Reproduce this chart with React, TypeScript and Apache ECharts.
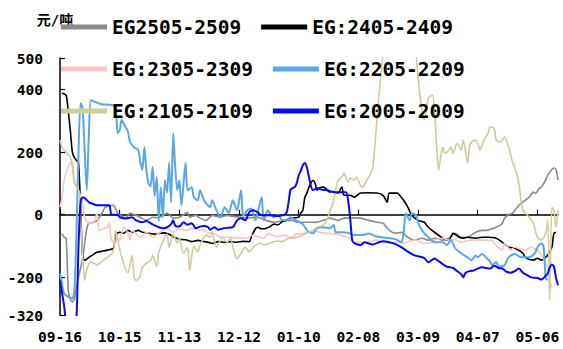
import React, { useEffect, useRef } from "react";
import * as echarts from "echarts";

// daily categories 09-16 .. 05-16
const startDate = Date.UTC(2024, 8, 16);
const dayCount = 243;
const categories: string[] = Array.from({ length: dayCount }, (_, i) => {
  const d = new Date(startDate + i * 86400000);
  const mm = String(d.getUTCMonth() + 1).padStart(2, "0");
  const dd = String(d.getUTCDate()).padStart(2, "0");
  return `${mm}-${dd}`;
});

const seriesNames = [
  "EG2505-2509",
  "EG:2405-2409",
  "EG:2305-2309",
  "EG:2205-2209",
  "EG:2105-2109",
  "EG:2005-2009",
];

// [day offset, spread value 元/吨]
const eg2505: [number, number][] = [[1,-60],[2,-72],[3,-75],[4,-240],[5,-270],[6,-278],[7,-270],[8,-230],[10,-170],[11,-140],[12,-90],[13,-45],[14,-27],[16,-25],[18,-18],[20,0],[22,24],[24,28],[26,30],[28,5],[30,-5],[32,-10],[34,5],[36,0],[39,-8],[42,-18],[45,-8],[48,-10],[50,-2],[52,5],[55,-11],[58,-8],[60,0],[62,8],[63,-8],[66,-2],[68,-11],[71,-18],[74,-2],[78,-8],[81,-2],[85,-6],[88,-8],[91,-11],[96,-8],[100,-18],[104,-24],[108,-20],[113,-18],[115,-24],[119,-24],[124,-24],[128,-18],[131,-11],[135,-18],[138,-11],[142,-10],[146,-11],[150,-18],[154,-24],[157,-27],[160,-50],[163,-59],[166,-56],[169,-72],[172,-81],[176,-75],[179,-81],[182,-75],[186,-81],[189,-75],[192,-59],[195,-72],[198,-72],[202,-56],[205,-50],[207,-50],[210,-45],[212,-40],[214,-33],[215,-27],[216,-11],[218,0],[220,5],[223,30],[226,46],[228,56],[230,72],[231,68],[233,85],[234,88],[236,110],[237,126],[240,149],[241,144],[242,110]];

const eg2405: [number, number][] = [[1,388],[3,380],[4,330],[5,270],[6,200],[7,182],[8,174],[9,165],[10,20],[11,-130],[12,-146],[14,-136],[16,-128],[18,-120],[21,-116],[23,-113],[26,-107],[27,-65],[29,-56],[31,-59],[33,-50],[35,-56],[38,-50],[40,-56],[43,-59],[46,-62],[50,-58],[53,-62],[55,-70],[58,-78],[61,-80],[64,-86],[67,-82],[70,-86],[72,-88],[74,-92],[77,-86],[80,-88],[83,-86],[86,-88],[89,-85],[92,-86],[93,-70],[95,-45],[96,-40],[98,-45],[100,-44],[102,-38],[104,-30],[106,-32],[108,-22],[110,-18],[112,-10],[114,-10],[116,-8],[117,5],[118,14],[119,56],[120,69],[121,88],[123,110],[124,100],[125,78],[126,85],[128,88],[130,78],[131,72],[133,74],[135,69],[137,88],[138,62],[141,62],[143,56],[146,69],[150,70],[154,69],[157,62],[159,40],[160,69],[164,69],[165,62],[167,46],[169,24],[171,-2],[174,-18],[177,-24],[179,-40],[182,-56],[186,-75],[189,-81],[191,-59],[194,-72],[196,-75],[198,-72],[202,-75],[205,-72],[208,-72],[212,-75],[215,-88],[218,-104],[221,-107],[225,-123],[226,-136],[230,-145],[232,-139],[234,-145],[236,-136],[237,-129],[239,-104],[240,-59],[241,-56]];

const eg2305: [number, number][] = [[0,24],[1,56],[2,110],[4,152],[5,165],[6,168],[7,110],[9,78],[11,37],[12,-8],[14,-27],[16,-27],[18,5],[19,-50],[21,-45],[23,-40],[24,-27],[25,-81],[27,-91],[28,-72],[29,-81],[31,-40],[33,-59],[34,-81],[35,-50],[37,-60],[39,-72],[42,-56],[45,-72],[48,-59],[52,-45],[55,-56],[58,-45],[61,-50],[64,-43],[67,-48],[70,-50],[72,-58],[75,-60],[78,-72],[82,-72],[86,-74],[90,-75],[94,-65],[96,-70],[99,-75],[101,-60],[103,-65],[106,-70],[109,-65],[112,-72],[115,-62],[118,-60],[121,-55],[124,-52],[127,-58],[131,-60],[135,-62],[138,-68],[141,-75],[143,-88],[147,-88],[150,-86],[154,-81],[158,-91],[162,-88],[164,-88],[167,-91],[170,-84],[173,-81],[176,-90],[179,-91],[182,-81],[186,-75],[189,-81],[192,-80],[195,-88],[198,-83],[200,-81],[205,-81],[210,-82],[211,-91],[213,-104],[215,-113],[216,-91],[219,-113],[221,-104],[224,-110],[226,-113],[229,-104],[231,-110],[232,-113],[233,-123],[234,-129],[236,-155],[237,-168],[238,-210],[239,-232]];

const eg2205: [number, number][] = [[0,-187],[1,-220],[2,-251],[4,-262],[6,-267],[7,-240],[8,-60],[9,200],[10,356],[11,340],[12,200],[13,78],[14,250],[15,366],[17,360],[19,355],[21,352],[23,352],[25,350],[27,345],[28,260],[29,270],[30,302],[31,290],[33,265],[34,232],[36,215],[38,206],[39,170],[40,142],[41,216],[42,140],[43,100],[44,90],[45,152],[46,60],[47,120],[48,-20],[49,88],[50,-8],[51,110],[52,70],[53,165],[54,40],[55,260],[56,150],[57,78],[58,110],[59,30],[61,165],[62,78],[64,88],[65,56],[67,46],[68,78],[70,46],[71,37],[73,24],[74,46],[76,14],[78,-8],[80,24],[82,5],[84,46],[86,14],[88,78],[89,-5],[91,14],[93,20],[95,-18],[96,5],[98,56],[99,-18],[101,14],[102,5],[104,-8],[106,0],[108,-18],[110,-18],[112,-8],[114,-15],[116,-22],[118,-30],[119,-40],[121,-56],[123,-59],[125,-43],[128,-40],[131,-43],[133,-34],[134,-56],[137,-56],[140,-58],[143,-65],[147,-65],[150,-60],[153,-68],[156,-72],[160,-75],[163,-78],[165,-85],[166,-88],[167,-59],[168,5],[170,-18],[171,5],[173,-2],[174,-24],[175,-40],[177,-59],[179,-72],[182,-88],[186,-88],[188,-97],[190,-81],[192,-107],[195,-123],[198,-136],[200,-145],[202,-130],[203,-136],[205,-125],[207,-136],[209,-150],[210,-161],[212,-150],[213,-165],[216,-161],[218,-136],[221,-125],[224,-136],[228,-136],[231,-120],[232,-104],[234,-91],[235,-100],[236,-200],[237,-209]];

const eg2105: [number, number][] = [[0,238],[1,215],[2,206],[3,200],[5,184],[6,152],[7,100],[9,78],[10,-8],[11,-130],[12,-209],[13,-175],[15,-150],[18,-160],[21,-145],[24,-132],[26,-115],[27,-50],[28,-76],[30,-136],[33,-185],[35,-130],[36,-200],[37,-210],[38,-205],[39,-195],[40,-168],[42,-155],[44,-145],[45,-130],[47,-165],[48,-120],[50,-85],[52,-62],[53,-104],[55,-62],[57,-91],[58,-75],[60,-123],[62,-104],[63,-178],[65,-100],[67,-118],[68,-98],[71,-65],[73,-72],[74,-55],[76,-104],[78,-81],[79,-72],[81,-88],[83,-75],[84,-104],[86,-140],[88,-123],[90,-104],[92,-118],[94,-104],[97,-91],[100,-96],[103,-88],[106,-84],[108,-86],[111,-75],[114,-74],[117,-68],[120,-58],[123,-50],[125,-40],[128,-34],[130,-10],[132,25],[133,46],[135,108],[137,120],[138,133],[140,104],[141,117],[143,110],[144,120],[146,94],[147,88],[149,110],[151,133],[152,149],[153,222],[155,382],[156,452],[157,510],[160,620],[164,700],[168,650],[172,580],[174,436],[176,327],[177,302],[179,372],[181,382],[182,327],[183,222],[184,142],[185,184],[186,216],[187,196],[189,206],[190,216],[191,196],[193,228],[195,206],[196,238],[198,165],[199,216],[200,232],[202,238],[203,228],[204,206],[206,238],[208,260],[209,280],[211,276],[212,238],[214,232],[216,248],[218,216],[220,165],[221,152],[223,100],[224,46],[225,14],[228,-8],[230,-27],[231,-50],[232,-72],[234,-81],[236,-59],[237,-18],[238,-273],[239,24],[240,14],[241,-40],[242,14]];

const eg2005: [number, number][] = [[0,-210],[1,-250],[2,-290],[3,-340],[5,-350],[7,-350],[8,-330],[9,-100],[10,40],[11,56],[12,53],[14,40],[15,37],[18,30],[21,30],[24,30],[25,0],[28,0],[29,-8],[31,-12],[33,-11],[35,-8],[37,-18],[40,-24],[42,-20],[44,-27],[46,-34],[48,-40],[50,-43],[52,-40],[54,-30],[55,-18],[56,-35],[58,-38],[60,-24],[62,-32],[64,-27],[66,-43],[68,-38],[70,-36],[72,-40],[73,-48],[75,-40],[77,-48],[79,-44],[81,-42],[84,-40],[86,-18],[88,-11],[90,-18],[92,8],[94,14],[96,8],[98,-2],[102,-2],[106,-4],[108,-2],[110,5],[111,37],[112,80],[113,85],[114,88],[115,100],[116,126],[117,140],[118,158],[119,165],[120,150],[121,120],[122,90],[123,78],[125,85],[127,80],[130,78],[133,72],[136,72],[139,72],[140,46],[141,-10],[142,-81],[143,-91],[146,-97],[148,-88],[150,-92],[152,-95],[155,-88],[157,-85],[160,-88],[163,-94],[166,-104],[169,-118],[172,-129],[175,-134],[177,-138],[179,-152],[182,-140],[184,-148],[186,-158],[188,-166],[191,-170],[193,-180],[195,-190],[196,-200],[197,-186],[199,-180],[201,-178],[203,-172],[205,-168],[207,-170],[209,-172],[211,-163],[213,-170],[215,-172],[217,-182],[219,-185],[221,-180],[223,-172],[225,-185],[227,-193],[229,-200],[232,-202],[234,-207],[236,-195],[237,-188],[238,-168],[239,-160],[240,-165],[241,-200],[242,-225]];

const seriesData = [eg2505, eg2405, eg2305, eg2205, eg2105, eg2005];
const seriesColors = ["#8a8a8a", "#000000", "#f5c6c6", "#5aa6e6", "#d0cb9e", "#0a0af0"];
const seriesWidths = [1.6, 1.6, 1.6, 2, 1.6, 2];

const monoFont = "'DejaVu Sans Mono', 'Noto Sans CJK SC', monospace";

export default function App() {
  const ref = useRef<HTMLDivElement>(null);
  useEffect(() => {
    document.body.style.margin = "0";
    if (!ref.current) return;
    const chart = echarts.init(ref.current, undefined, { renderer: "svg" });
    chart.setOption({
      animation: false,
      backgroundColor: "#ffffff",
      textStyle: { fontFamily: monoFont },
      legend: {
        left: 56,
        top: 11,
        width: 440,
        icon: "rect",
        itemWidth: 46,
        itemHeight: 5,
        itemGap: 20,
        data: seriesNames,
        textStyle: { fontSize: 19.5, fontWeight: "bold", color: "#000", lineHeight: 22, fontFamily: monoFont },
      },
      grid: { left: 60, right: 5, top: 58, bottom: 34, containLabel: false },
      xAxis: [
        {
          type: "category",
          data: categories,
          boundaryGap: false,
          position: "bottom",
          axisLine: { show: true, onZero: true, lineStyle: { color: "#000", width: 1.5 } },
          axisTick: { show: true, inside: true, length: 5, interval: 28, lineStyle: { color: "#000", width: 1.2 } },
          axisLabel: { show: false },
          splitLine: { show: false },
        },
        {
          type: "category",
          data: categories,
          boundaryGap: false,
          position: "bottom",
          axisLine: { show: false, onZero: false },
          axisTick: { show: false },
          axisLabel: { show: true, interval: 28, margin: 14, fontSize: 14.6, fontWeight: "bold", color: "#000", fontFamily: monoFont },
          splitLine: { show: false },
        },
      ],
      yAxis: {
        type: "value",
        min: -320,
        max: 500,
        name: "元/吨",
        nameLocation: "end",
        nameGap: 31,
        nameTextStyle: { fontSize: 14, fontWeight: "bold", color: "#000", align: "center", padding: [0, 10, 0, 0], fontFamily: monoFont },
        axisLine: { show: true, lineStyle: { color: "#000", width: 1.5 } },
        axisTick: { show: true, inside: true, length: 5, lineStyle: { color: "#000", width: 1.2 } },
        axisLabel: { fontSize: 14.6, fontWeight: "bold", color: "#000", margin: 17, showMinLabel: true, showMaxLabel: true, fontFamily: monoFont },
        splitLine: { show: false },
      },
      series: seriesNames.map((name, i) => ({
        name,
        type: "line",
        xAxisIndex: 0,
        data: seriesData[i],
        showSymbol: false,
        symbol: "none",
        smooth: 0.25,
        clip: true,
        lineStyle: { color: seriesColors[i], width: seriesWidths[i] },
        itemStyle: { color: seriesColors[i] },
      })),
    });
    return () => chart.dispose();
  }, []);
  return <div ref={ref} style={{ width: 563, height: 349 }} />;
}
